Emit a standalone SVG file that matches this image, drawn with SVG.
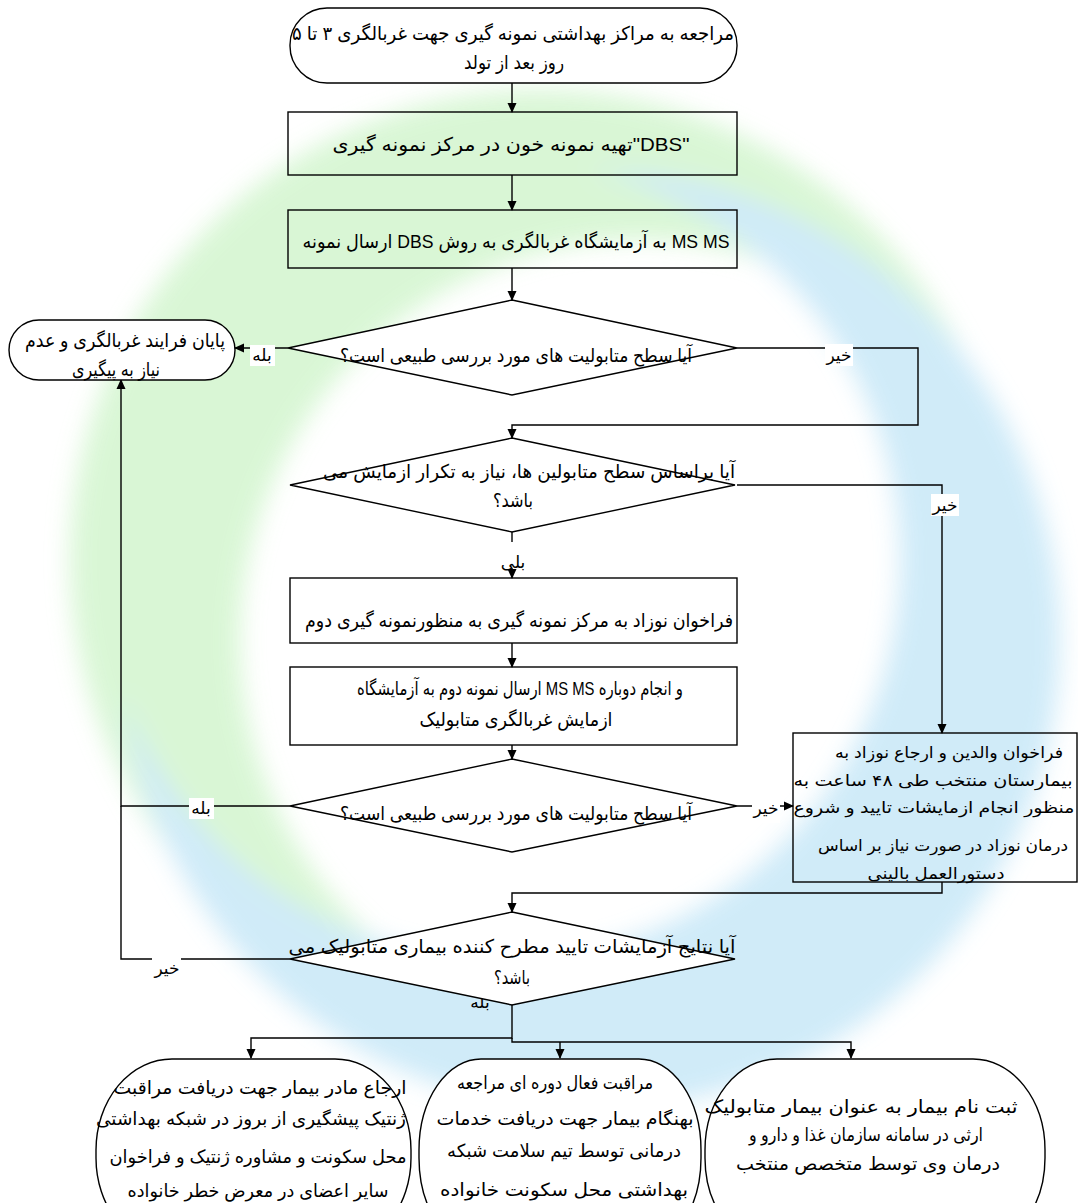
<svg xmlns="http://www.w3.org/2000/svg" width="1078" height="1203" viewBox="0 0 1078 1203">
<style>
.t{font-family:"Liberation Sans","DejaVu Sans",sans-serif;font-size:19px;fill:#000;text-anchor:middle}
.s{font-size:17px}
.b{font-size:18px}
.h{font-size:16px}
.shape{stroke:#000;stroke-width:1.4}
.w{fill:#fff}
.n{fill:none}
.c{fill:none;stroke:#000;stroke-width:1.4}
.lb{fill:#fff}
</style>
<defs>
<marker id="ah" markerWidth="10" markerHeight="10" refX="9" refY="5" orient="auto" markerUnits="userSpaceOnUse">
<path d="M0,0.5 L10,5 L0,9.5 Z" fill="#000"/>
</marker>
<filter id="blur" x="-10%" y="-10%" width="120%" height="120%"><feGaussianBlur stdDeviation="12"/></filter>
<mask id="mg" maskUnits="userSpaceOnUse" x="0" y="0" width="1078" height="1203">
<rect width="1078" height="1203" fill="#fff"/>
<circle cx="640" cy="640" r="400" fill="#000"/>
</mask>
<mask id="mb" maskUnits="userSpaceOnUse" x="0" y="0" width="1078" height="1203">
<rect width="1078" height="1203" fill="#fff"/>
<circle cx="500" cy="560" r="400" fill="#000"/>
</mask>
</defs>
<rect width="1078" height="1203" fill="#fff"/>
<g id="watermark" filter="url(#blur)" opacity="0.9">
<circle cx="540" cy="560" r="470" fill="#d5f6d1" mask="url(#mg)"/>
<circle cx="590" cy="640" r="470" fill="#cbe9f8" mask="url(#mb)"/>
</g>
<g id="connectors">
<path class="c" d="M512,83 V112" marker-end="url(#ah)"/>
<path class="c" d="M512,175 V210" marker-end="url(#ah)"/>
<path class="c" d="M512,268 V300" marker-end="url(#ah)"/>
<path class="c" d="M288,348 H235" marker-end="url(#ah)"/>
<path class="c" d="M737,348 H918 V425 H512 V438" marker-end="url(#ah)"/>
<path class="c" d="M737,485 H942 V733" marker-end="url(#ah)"/>
<path class="c" d="M512,532 V578" marker-end="url(#ah)"/>
<path class="c" d="M512,643 V667" marker-end="url(#ah)"/>
<path class="c" d="M512,745 V759" marker-end="url(#ah)"/>
<path class="c" d="M290,806 H121 V380" marker-end="url(#ah)"/>
<path class="c" d="M737,806 H793" marker-end="url(#ah)"/>
<path class="c" d="M942,882 V893 H512 V912" marker-end="url(#ah)"/>
<path class="c" d="M290,959 H121 V806"/>
<path class="c" d="M512,1005 V1038 H251 V1058" marker-end="url(#ah)"/>
<path class="c" d="M512,1038 V1042 H851 V1058" marker-end="url(#ah)"/>
<path class="c" d="M560,1042 V1058" marker-end="url(#ah)"/>
<rect class="lb" x="250" y="345" width="25" height="21"/>
<text class="t s" x="262" y="361" direction="rtl">بله</text>
<rect class="lb" x="825" y="344" width="28" height="22"/>
<text class="t s" x="839" y="361" direction="rtl">خیر</text>
<rect class="lb" x="931" y="494" width="28" height="22"/>
<text class="t s" x="945" y="511" direction="rtl">خیر</text>
<rect class="lb" x="500" y="542" width="26" height="26"/>
<text class="t s" x="513" y="568" direction="rtl">بلی</text>
<rect class="lb" x="189" y="798" width="25" height="21"/>
<text class="t s" x="201" y="814" direction="rtl">بله</text>
<rect class="lb" x="752" y="792" width="28" height="31"/>
<text class="t s" x="766" y="814" direction="rtl">خیر</text>
<rect class="lb" x="152" y="956" width="29" height="22"/>
<text class="t s" x="167" y="974" direction="rtl">خیر</text>
<text class="t s" x="480" y="1008" direction="rtl">بله</text>
</g>
<g id="n-start">
<rect class="shape w" x="290" y="8" width="447" height="75" rx="37" ry="37"/>
<text class="t" x="513" y="40" direction="rtl" textLength="442" lengthAdjust="spacingAndGlyphs">مراجعه به مراکز بهداشتی نمونه گیری جهت غربالگری ۳ تا ۵</text>
<text class="t" x="514" y="69" direction="rtl" textLength="100" lengthAdjust="spacingAndGlyphs">روز بعد از تولد</text>
</g>
<g id="n-blood">
<rect class="shape n" x="288" y="112" width="449" height="63"/>
<text class="t" x="511" y="151" textLength="357" lengthAdjust="spacingAndGlyphs">تهیه نمونه خون در مرکز نمونه گیری"DBS"</text>
</g>
<g id="n-send">
<rect class="shape n" x="288" y="210" width="449" height="58"/>
<text class="t" x="516" y="248" textLength="427" lengthAdjust="spacingAndGlyphs">ارسال نمونه DBS به آزمایشگاه غربالگری به روش MS MS</text>
</g>
<g id="n-d1">
<polygon class="shape w" points="512,300 737,348 512,395 288,348"/>
<text class="t" x="516" y="362" direction="rtl" textLength="352" lengthAdjust="spacingAndGlyphs">آیا سطح متابولیت های مورد بررسی طبیعی است؟</text>
</g>
<g id="n-end">
<rect class="shape w" x="9" y="320" width="226" height="60" rx="30" ry="30"/>
<text class="t" x="125" y="347" direction="rtl" textLength="200" lengthAdjust="spacingAndGlyphs">پایان فرایند غربالگری و عدم</text>
<text class="t" x="116" y="376" direction="rtl" textLength="88" lengthAdjust="spacingAndGlyphs">نیاز به پیگیری</text>
</g>
<g id="n-d2">
<polygon class="shape w" points="512,438 735,485 512,532 290,485"/>
<text class="t" x="529" y="478" direction="rtl" textLength="412" lengthAdjust="spacingAndGlyphs">آیا براساس سطح متابولین ها، نیاز به تکرار ازمایش می</text>
<text class="t" x="513" y="507" direction="rtl" textLength="40" lengthAdjust="spacingAndGlyphs">باشد؟</text>
</g>
<g id="n-recall">
<rect class="shape n" x="290" y="578" width="447" height="65"/>
<text class="t" x="519" y="627" direction="rtl" textLength="428" lengthAdjust="spacingAndGlyphs">فراخوان نوزاد به مرکز نمونه گیری به منظورنمونه گیری دوم</text>
</g>
<g id="n-second">
<rect class="shape n" x="290" y="667" width="447" height="78"/>
<text class="t" x="520" y="695" textLength="326" lengthAdjust="spacingAndGlyphs">ارسال نمونه دوم به آزمایشگاه MS MS و انجام دوباره</text>
<text class="t" x="516" y="726" direction="rtl" textLength="193" lengthAdjust="spacingAndGlyphs">ازمایش غربالگری متابولیک</text>
</g>
<g id="n-d3">
<polygon class="shape w" points="512,759 737,806 512,852 290,806"/>
<text class="t" x="516" y="820" direction="rtl" textLength="352" lengthAdjust="spacingAndGlyphs">آیا سطح متابولیت های مورد بررسی طبیعی است؟</text>
</g>
<g id="n-hospital">
<rect class="shape n" x="793" y="733" width="284" height="149"/>
<text class="t h" x="949" y="758" direction="rtl" textLength="228" lengthAdjust="spacingAndGlyphs">فراخوان والدین و ارجاع نوزاد به</text>
<text class="t h" x="933" y="786" direction="rtl" textLength="279" lengthAdjust="spacingAndGlyphs">بیمارستان منتخب طی ۴۸ ساعت به</text>
<text class="t h" x="934" y="813" direction="rtl" textLength="281" lengthAdjust="spacingAndGlyphs">منظور انجام ازمایشات تایید و شروع</text>
<text class="t h" x="943" y="851" direction="rtl" textLength="250" lengthAdjust="spacingAndGlyphs">درمان نوزاد در صورت نیاز بر اساس</text>
<text class="t h" x="936" y="879" direction="rtl" textLength="137" lengthAdjust="spacingAndGlyphs">دستورالعمل بالینی</text>
</g>
<g id="n-d4">
<polygon class="shape w" points="512,912 735,959 512,1005 290,959"/>
<text class="t" x="512" y="953" direction="rtl" textLength="447" lengthAdjust="spacingAndGlyphs">آیا نتایج آزمایشات تایید مطرح کننده بیماری متابولیک می</text>
<text class="t" x="512" y="984" direction="rtl" textLength="36" lengthAdjust="spacingAndGlyphs">باشد؟</text>
</g>
<g id="n-mother">
<rect class="shape w" x="96" y="1059" width="315" height="190" rx="76" ry="91"/>
<text class="t b" x="260" y="1094" direction="rtl" textLength="293" lengthAdjust="spacingAndGlyphs">ارجاع مادر بیمار جهت دریافت مراقبت</text>
<text class="t b" x="251" y="1125" direction="rtl" textLength="310" lengthAdjust="spacingAndGlyphs">ژنتیک پیشگیری از بروز در شبکه بهداشتی</text>
<text class="t b" x="258" y="1163" direction="rtl" textLength="297" lengthAdjust="spacingAndGlyphs">محل سکونت و مشاوره ژنتیک و فراخوان</text>
<text class="t b" x="258" y="1197" direction="rtl" textLength="261" lengthAdjust="spacingAndGlyphs">سایر اعضای در معرض خطر خانواده</text>
</g>
<g id="n-care">
<rect class="shape w" x="419" y="1059" width="282" height="190" rx="62" ry="91"/>
<text class="t b" x="555" y="1089" direction="rtl" textLength="196" lengthAdjust="spacingAndGlyphs">مراقبت فعال دوره ای مراجعه</text>
<text class="t b" x="565" y="1125" direction="rtl" textLength="257" lengthAdjust="spacingAndGlyphs">بهنگام بیمار جهت دریافت خدمات</text>
<text class="t b" x="564" y="1157" direction="rtl" textLength="234" lengthAdjust="spacingAndGlyphs">درمانی توسط تیم سلامت شبکه</text>
<text class="t b" x="564" y="1196" direction="rtl" textLength="248" lengthAdjust="spacingAndGlyphs">بهداشتی محل سکونت خانواده</text>
</g>
<g id="n-register">
<rect class="shape w" x="705" y="1059" width="340" height="190" rx="72" ry="91"/>
<text class="t b" x="861" y="1113" direction="rtl" textLength="313" lengthAdjust="spacingAndGlyphs">ثبت نام بیمار به عنوان بیمار متابولیک</text>
<text class="t b" x="866" y="1141" direction="rtl" textLength="234" lengthAdjust="spacingAndGlyphs">ارثی در سامانه سازمان غذا و دارو و</text>
<text class="t b" x="868" y="1170" direction="rtl" textLength="264" lengthAdjust="spacingAndGlyphs">درمان وی توسط متخصص منتخب</text>
</g>
</svg>
